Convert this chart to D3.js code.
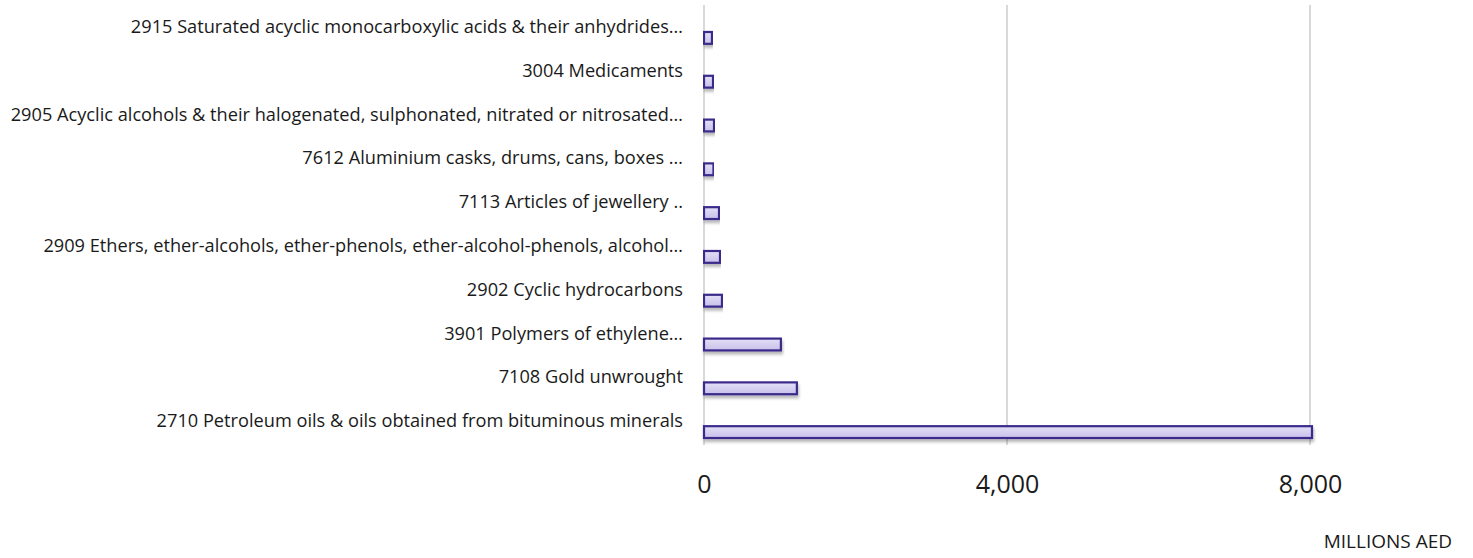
<!DOCTYPE html>
<html>
<head>
<meta charset="utf-8">
<script src="https://d3js.org/d3.v7.min.js"></script>
<style>
  body { margin: 0; background: #fff; }
  text { font-family: "Open Sans", "Noto Sans", sans-serif; fill: #1a1a1a; }
</style>
</head>
<body>
<svg id="chart" width="1473" height="558"></svg>
<script>
  // categories top to bottom
  var categories = [
    "2915 Saturated acyclic monocarboxylic acids & their anhydrides\u2026",
    "3004 Medicaments",
    "2905 Acyclic alcohols & their halogenated, sulphonated, nitrated or nitrosated\u2026",
    "7612 Aluminium casks, drums, cans, boxes \u2026",
    "7113 Articles of jewellery ..",
    "2909 Ethers, ether-alcohols, ether-phenols, ether-alcohol-phenols, alcohol\u2026",
    "2902 Cyclic hydrocarbons",
    "3901 Polymers of ethylene\u2026",
    "7108 Gold unwrought",
    "2710 Petroleum oils & oils obtained from bituminous minerals"
  ];
  var values = [105, 119, 132, 125, 198, 211, 237, 1015, 1226, 8026]; // millions AED
  var tickValues = [0, 4000, 8000];
  var axisTitle = "MILLIONS AED";

  var svg = d3.select("#chart");

  var x = d3.scaleLinear()
    .domain([0, 8000])
    .range([704, 1310]);

  var y = d3.scaleBand()
    .domain(categories)
    .range([16, 454])
    .paddingInner(0.73)
    .paddingOuter(0.365);

  // gradient + shadow for the bars
  var defs = svg.append("defs");
  var grad = defs.append("linearGradient")
    .attr("id", "barfill")
    .attr("x1", 0).attr("y1", 0).attr("x2", 0).attr("y2", 1);
  grad.append("stop").attr("offset", "0%").attr("stop-color", "#e4e0f6");
  grad.append("stop").attr("offset", "100%").attr("stop-color", "#c8c0ea");

  var shadow = defs.append("filter").attr("id", "shadow")
    .attr("x", "-5%").attr("y", "-50%").attr("width", "110%").attr("height", "250%");
  shadow.append("feDropShadow")
    .attr("dx", 1).attr("dy", 3).attr("stdDeviation", 1.5)
    .attr("flood-color", "#000").attr("flood-opacity", 0.28);

  // gridlines
  svg.append("g")
    .selectAll("line")
    .data(tickValues)
    .enter().append("line")
    .attr("x1", function(d) { return x(d); })
    .attr("x2", function(d) { return x(d); })
    .attr("y1", 5)
    .attr("y2", 445)
    .attr("stroke", "#d9d9d9")
    .attr("stroke-width", 2);

  // bars
  svg.append("g")
    .selectAll("rect")
    .data(values)
    .enter().append("rect")
    .attr("x", x(0))
    .attr("y", function(d, i) { return y(categories[i]); })
    .attr("width", function(d) { return x(d) - x(0); })
    .attr("height", y.bandwidth())
    .attr("fill", "url(#barfill)")
    .attr("stroke", "#3b2a8a")
    .attr("stroke-width", 2.2)
    .attr("filter", "url(#shadow)");

  // category labels
  svg.append("g")
    .selectAll("text")
    .data(categories)
    .enter().append("text")
    .attr("x", 683)
    .attr("y", function(d) { return y(d) + y.bandwidth() / 2 - 5; })
    .attr("text-anchor", "end")
    .style("font-size", "18.2px")
    .text(function(d) { return d; });

  // x axis
  var xAxis = d3.axisBottom(x)
    .tickValues(tickValues)
    .tickSize(0)
    .tickPadding(0)
    .tickFormat(d3.format(","));

  var gx = svg.append("g")
    .attr("transform", "translate(0,493)")
    .call(xAxis);
  gx.select(".domain").remove();
  gx.selectAll("text")
    .attr("dy", 0)
    .attr("y", 0)
    .style("font-size", "25px")
    .style("font-family", "'Open Sans', sans-serif")
    .attr("fill", "#1a1a1a");

  svg.append("text")
    .attr("x", 1452)
    .attr("y", 548)
    .attr("text-anchor", "end")
    .style("font-size", "19px")
    .text(axisTitle);
</script>
</body>
</html>
